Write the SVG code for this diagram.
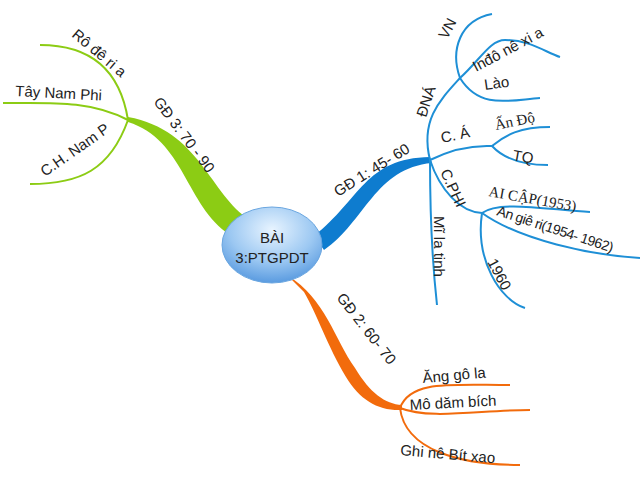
<svg xmlns="http://www.w3.org/2000/svg" width="640" height="480" viewBox="0 0 640 480">
<defs>
<radialGradient id="g" cx="0.5" cy="0.3" r="0.7"><stop offset="0" stop-color="#e8f4ff"/><stop offset="0.6" stop-color="#9cc8f2"/><stop offset="1" stop-color="#5a9be0"/></radialGradient>
</defs>
<style>
text{font-family:"Liberation Sans",sans-serif;font-size:15px;fill:#222}
.s{font-family:"Liberation Serif",serif;font-size:15px}
.b{fill:none;stroke:#1e8fd6;stroke-width:2}
.o{fill:none;stroke:#f26b0c;stroke-width:2}
.gr{fill:none;stroke:#8ccc14;stroke-width:2}
</style>
<g id="connectors">
<path d="M314,236 C360,200 365,158 430,157 L432,163 C375,168 365,222 324,250 Z" fill="#0e7ccf"/>
<path class="b" d="M430,160 C420,120 440,100 460,78 C450,50 460,20 492,14"/>
<path class="b" d="M460,78 C480,110 510,100 540,98"/>
<path class="b" d="M460,78 C480,60 490,40 505,40 C530,40 545,52 560,57"/>
<path class="b" d="M430,160 C450,150 470,145 492,146 C505,135 520,127 550,127"/>
<path class="b" d="M492,146 C505,160 525,165 548,165"/>
<path class="b" d="M430,160 C440,190 460,212 482,213 C500,200 550,210 590,212"/>
<path class="b" d="M482,213 C520,240 590,255 640,258"/>
<path class="b" d="M482,213 C475,260 500,300 525,308"/>
<path class="b" d="M430,160 C430,200 432,260 437,305"/>
<path d="M288,276 C325,298 335,340 355,368 C370,393 385,404 402,405 L402,410 C378,411 360,400 346,377 C328,347 316,312 304,292 Z" fill="#f26b0c"/>
<path class="o" d="M400,408 C410,380 450,385 510,385"/>
<path class="o" d="M400,408 C430,420 480,410 530,410"/>
<path class="o" d="M400,408 C405,450 460,465 520,465"/>
<path d="M250,220 C210,195 200,130 128,117 L128,122 C185,140 185,205 230,235 Z" fill="#8ccc14"/>
<path class="gr" d="M128,120 C120,70 90,45 40,45"/>
<path class="gr" d="M128,120 C90,100 50,103 3,103"/>
<path class="gr" d="M128,120 C110,170 80,184 30,184"/>
</g>
<g id="center"><ellipse cx="272" cy="245" rx="50" ry="38" fill="url(#g)" stroke="#6aa6e0"/>
<text x="272" y="243" text-anchor="middle">BÀI</text><text x="272" y="263" text-anchor="middle">3:PTGPDT</text></g>
<g id="labels">
<text transform="translate(338,197) rotate(-32)">GĐ 1: 45- 60</text>
<text transform="translate(426,118) rotate(-72)">ĐNÁ</text>
<text transform="translate(447,40) rotate(-62)">VN</text>
<text transform="translate(476,72) rotate(-28)">Inđô nê xi a</text>
<text transform="translate(485,90) rotate(-8)">Lào</text>
<text transform="translate(442,143) rotate(-12)">C. Á</text>
<text class="s" transform="translate(496,130) rotate(-12)">Ấn Độ</text>
<text transform="translate(512,160) rotate(10)">TQ</text>
<text transform="translate(440,172) rotate(65)">C.PHI</text>
<text class="s" transform="translate(488,196) rotate(10)">AI CẬP(1953)</text>
<text transform="translate(496,215) rotate(18)" style="font-size:14px;letter-spacing:-0.5px">An giê ri(1954- 1962)</text>
<text transform="translate(487,262) rotate(62)">1960</text>
<text transform="translate(434,216) rotate(90)">Mĩ la tinh</text>
<text transform="translate(336,298) rotate(52)">GĐ 2: 60- 70</text>
<text transform="translate(423,383) rotate(-5)">Ăng gô la</text>
<text transform="translate(410,410) rotate(-3)">Mô dăm bích</text>
<text transform="translate(400,455) rotate(5)">Ghi nê Bít xao</text>
<text transform="translate(153,102) rotate(53)">GĐ 3: 70 - 90</text>
<text transform="translate(71,36) rotate(40)">Rô đê ri a</text>
<text transform="translate(15,96) rotate(3)">Tây Nam Phi</text>
<text transform="translate(45,177) rotate(-35)">C.H. Nam P</text>
</g>
</svg>
